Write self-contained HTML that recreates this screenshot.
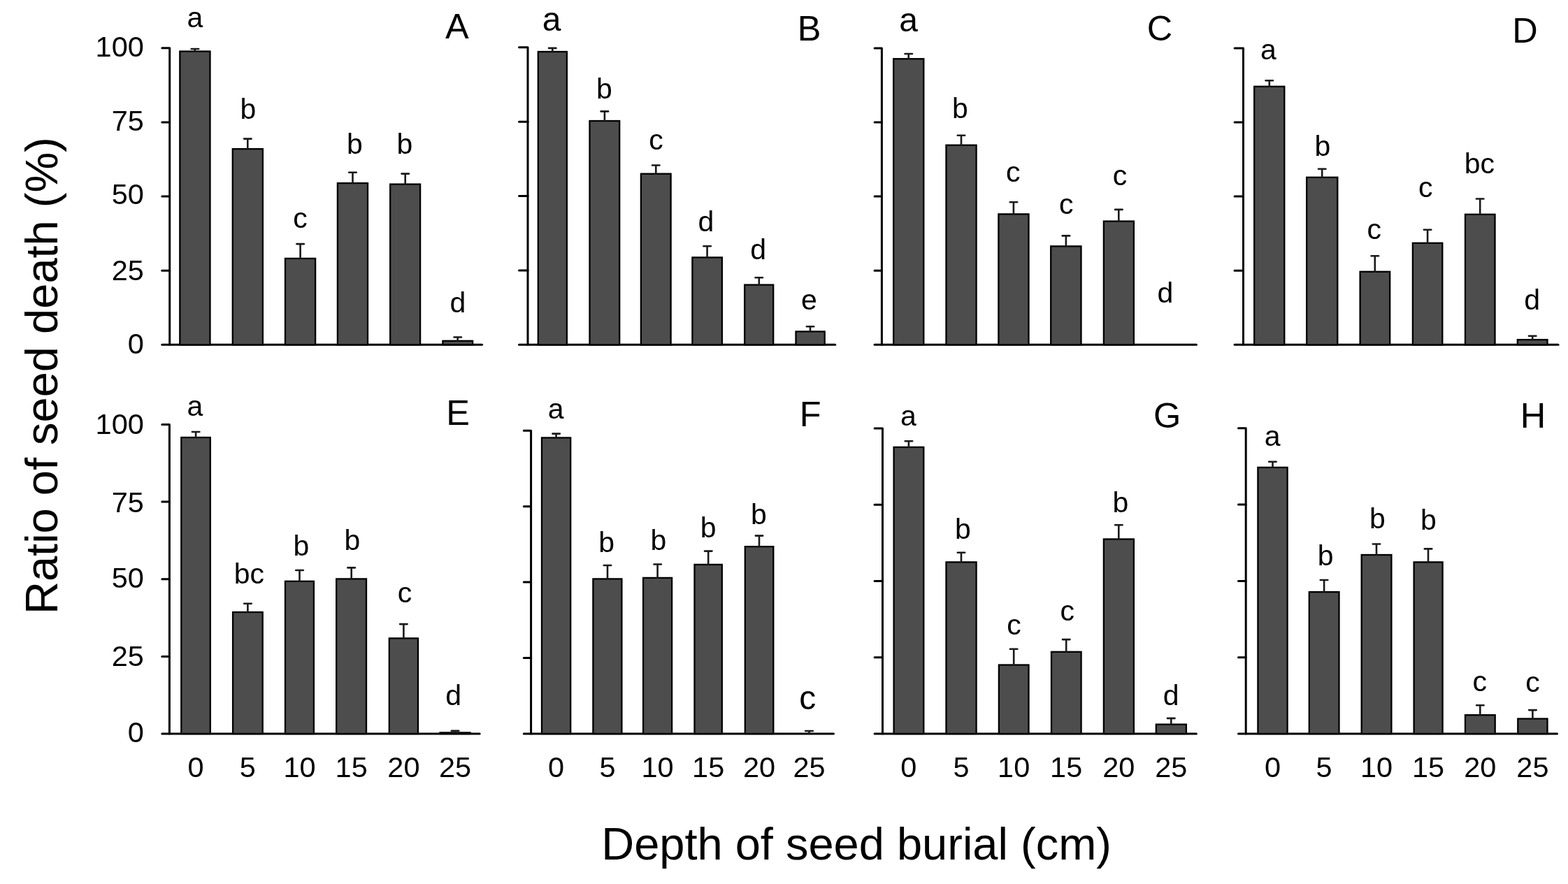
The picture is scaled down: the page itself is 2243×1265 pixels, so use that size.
<!DOCTYPE html>
<html><head><meta charset="utf-8"><title>Seed death by burial depth</title>
<style>
html,body{margin:0;padding:0;background:#fff;}
body{width:2243px;height:1265px;overflow:hidden;}
svg{display:block;}
text{font-family:"Liberation Sans",Arial,Helvetica,sans-serif;fill:#000;}
.let{font-size:41px;text-anchor:middle;}
.tk{font-size:41.5px;}
.pl{font-size:50.5px;text-anchor:middle;}
.ti{font-size:65px;}
.ax{stroke:#000;stroke-width:3.0;fill:none;stroke-linecap:round;stroke-linejoin:round;}
.bar{fill:#4d4d4d;stroke:#000;stroke-width:2.3;}
.err{stroke:#1a1a1a;stroke-width:2.6;fill:none;stroke-linecap:round;}
</style></head>
<body>
<svg width="2243" height="1265" viewBox="0 0 2243 1265">
<rect width="2243" height="1265" fill="#fff"/>
<path d="M231.8 68.8H242.7V493.3" class="ax"/>
<path d="M231.8 387.2H242.7" class="ax"/>
<path d="M231.8 281.1H242.7" class="ax"/>
<path d="M231.8 174.9H242.7" class="ax"/>
<path d="M231.8 493.3H689.5" class="ax"/>
<rect x="257.3" y="73.5" width="43.2" height="419.9" class="bar"/>
<path d="M278.9 73.5V70M273.7 70H284.2" class="err"/>
<rect x="332.8" y="213.1" width="43.1" height="280.2" class="bar"/>
<path d="M354.3 213.1V198.6M349.1 198.6H359.6" class="err"/>
<rect x="408" y="369.9" width="43.1" height="123.4" class="bar"/>
<path d="M429.6 369.9V349.1M424.4 349.1H434.9" class="err"/>
<rect x="482.9" y="262.1" width="43.1" height="231.2" class="bar"/>
<path d="M504.5 262.1V246.8M499.2 246.8H509.8" class="err"/>
<rect x="558.2" y="263.6" width="42.9" height="229.7" class="bar"/>
<path d="M579.7 263.6V248.6M574.5 248.6H585" class="err"/>
<rect x="633.4" y="487.8" width="42.7" height="5.5" class="bar"/>
<path d="M654.7 487.8V482.5M649.5 482.5H660" class="err"/>
<text x="279" y="38.8" class="let">a</text>
<text x="355" y="169.7" class="let">b</text>
<text x="429.6" y="325.6" class="let">c</text>
<text x="507.5" y="219.6" class="let">b</text>
<text x="579" y="219.6" class="let">b</text>
<text x="654.8" y="447.2" class="let">d</text>
<text x="653.8" y="55.3" class="pl">A</text>
<path d="M742.5 67.8H755V493.3" class="ax"/>
<path d="M742.5 386.9H755" class="ax"/>
<path d="M742.5 280.6H755" class="ax"/>
<path d="M742.5 174.2H755" class="ax"/>
<path d="M742.5 493.3H1194.7" class="ax"/>
<rect x="769.8" y="74" width="41.1" height="419.4" class="bar"/>
<path d="M790.3 74V68.9M785 68.9H795.5" class="err"/>
<rect x="843.5" y="173" width="42.7" height="320.4" class="bar"/>
<path d="M864.9 173V159.4M859.6 159.4H870.1" class="err"/>
<rect x="916.9" y="248.7" width="42.7" height="244.7" class="bar"/>
<path d="M938.3 248.7V236.5M933 236.5H943.5" class="err"/>
<rect x="990.4" y="368.4" width="42.5" height="124.9" class="bar"/>
<path d="M1011.6 368.4V352.3M1006.4 352.3H1016.9" class="err"/>
<rect x="1065.2" y="407.6" width="41" height="85.7" class="bar"/>
<path d="M1085.8 407.6V397.3M1080.5 397.3H1091" class="err"/>
<rect x="1138.5" y="474.4" width="41.2" height="18.9" class="bar"/>
<path d="M1159 474.4V467.3M1153.8 467.3H1164.3" class="err"/>
<text x="789" y="43.7" class="let" style="font-size:48px">a</text>
<text x="864.5" y="140.8" class="let">b</text>
<text x="938.6" y="213.6" class="let">c</text>
<text x="1009.8" y="330.6" class="let">d</text>
<text x="1084.7" y="371.2" class="let">d</text>
<text x="1157.4" y="442.5" class="let">e</text>
<text x="1157.7" y="58.2" class="pl">B</text>
<path d="M1251.1 69H1261.4V493.3" class="ax"/>
<path d="M1251.1 387.2H1261.4" class="ax"/>
<path d="M1251.1 281.1H1261.4" class="ax"/>
<path d="M1251.1 175.1H1261.4" class="ax"/>
<path d="M1251.1 493.3H1711.4" class="ax"/>
<rect x="1278.2" y="84.2" width="43.1" height="409.1" class="bar"/>
<path d="M1299.7 84.2V77M1294.5 77H1305" class="err"/>
<rect x="1353.5" y="207.7" width="43.1" height="285.6" class="bar"/>
<path d="M1375 207.7V193.7M1369.8 193.7H1380.2" class="err"/>
<rect x="1428.4" y="306.4" width="43.1" height="186.9" class="bar"/>
<path d="M1449.9 306.4V289.2M1444.7 289.2H1455.2" class="err"/>
<rect x="1503.2" y="352.4" width="43.3" height="140.9" class="bar"/>
<path d="M1524.9 352.4V337.4M1519.7 337.4H1530.2" class="err"/>
<rect x="1578.9" y="316.6" width="43" height="176.7" class="bar"/>
<path d="M1600.3 316.6V299.9M1595.1 299.9H1605.6" class="err"/>
<text x="1299.7" y="45.3" class="let" style="font-size:48px">a</text>
<text x="1373.3" y="168.7" class="let">b</text>
<text x="1449.3" y="260.4" class="let">c</text>
<text x="1525.2" y="305.5" class="let">c</text>
<text x="1602" y="265.3" class="let">c</text>
<text x="1666.9" y="433.3" class="let">d</text>
<text x="1658.9" y="57.8" class="pl">C</text>
<path d="M1766.1 69H1778.5V493.3" class="ax"/>
<path d="M1766.1 387.2H1778.5" class="ax"/>
<path d="M1766.1 281.1H1778.5" class="ax"/>
<path d="M1766.1 175.1H1778.5" class="ax"/>
<path d="M1766.1 493.3H2229" class="ax"/>
<rect x="1794.2" y="123.8" width="43.1" height="369.6" class="bar"/>
<path d="M1815.8 123.8V115.3M1810.5 115.3H1821" class="err"/>
<rect x="1869.2" y="253.8" width="44.1" height="239.6" class="bar"/>
<path d="M1891.2 253.8V241.8M1886 241.8H1896.5" class="err"/>
<rect x="1945.6" y="388.8" width="42.6" height="104.5" class="bar"/>
<path d="M1966.8 388.8V366.3M1961.6 366.3H1972.1" class="err"/>
<rect x="2020.9" y="347.8" width="42.4" height="145.6" class="bar"/>
<path d="M2042.1 347.8V328.8M2036.8 328.8H2047.3" class="err"/>
<rect x="2096" y="306.8" width="42.5" height="186.5" class="bar"/>
<path d="M2117.2 306.8V284.5M2111.9 284.5H2122.4" class="err"/>
<rect x="2170.8" y="486.1" width="42.7" height="7.2" class="bar"/>
<path d="M2192.2 486.1V480.7M2186.9 480.7H2197.4" class="err"/>
<text x="1814.5" y="84.8" class="let">a</text>
<text x="1891.9" y="223.2" class="let">b</text>
<text x="1965.8" y="341.9" class="let">c</text>
<text x="2039.2" y="282.4" class="let">c</text>
<text x="2116.3" y="248.3" class="let">bc</text>
<text x="2191.6" y="442.9" class="let">d</text>
<text x="2181.4" y="61" class="pl">D</text>
<path d="M231.8 607.4H242.4V1050" class="ax"/>
<path d="M231.8 939.4H242.4" class="ax"/>
<path d="M231.8 828.7H242.4" class="ax"/>
<path d="M231.8 718H242.4" class="ax"/>
<path d="M231.8 1050H686.2" class="ax"/>
<rect x="259.3" y="626" width="41.5" height="424" class="bar"/>
<path d="M280.1 626V618M274.9 618H285.4" class="err"/>
<rect x="333.1" y="876" width="42.6" height="174" class="bar"/>
<path d="M354.4 876V863.8M349.2 863.8H359.7" class="err"/>
<rect x="408" y="831.8" width="40.9" height="218.2" class="bar"/>
<path d="M428.5 831.8V816M423.2 816H433.8" class="err"/>
<rect x="481.2" y="828.4" width="42.8" height="221.6" class="bar"/>
<path d="M502.7 828.4V812.4M497.4 812.4H507.9" class="err"/>
<rect x="556.8" y="913.4" width="41.2" height="136.6" class="bar"/>
<path d="M577.4 913.4V893.1M572.1 893.1H582.6" class="err"/>
<rect x="629.5" y="1048.4" width="43.1" height="1.6" class="bar"/>
<path d="M651.1 1048.4V1045.7M645.8 1045.7H656.3" class="err"/>
<text x="278.9" y="595.2" class="let">a</text>
<text x="356.4" y="834.9" class="let">bc</text>
<text x="431" y="795.3" class="let">b</text>
<text x="503.9" y="787.1" class="let">b</text>
<text x="578.9" y="862.1" class="let">c</text>
<text x="648.7" y="1008.9" class="let">d</text>
<text x="655.1" y="607.8" class="pl">E</text>
<path d="M749.3 616.3H759.6V1050" class="ax"/>
<path d="M749.3 941.6H759.6" class="ax"/>
<path d="M749.3 833.1H759.6" class="ax"/>
<path d="M749.3 724.7H759.6" class="ax"/>
<path d="M749.3 1050H1192.5" class="ax"/>
<rect x="775" y="626.4" width="41.2" height="423.6" class="bar"/>
<path d="M795.6 626.4V620.6M790.4 620.6H800.9" class="err"/>
<rect x="848.4" y="828.4" width="41" height="221.6" class="bar"/>
<path d="M869 828.4V809M863.7 809H874.2" class="err"/>
<rect x="920.1" y="826.9" width="41" height="223.1" class="bar"/>
<path d="M940.6 826.9V807.5M935.4 807.5H945.9" class="err"/>
<rect x="993.5" y="807.9" width="39.3" height="242.1" class="bar"/>
<path d="M1013.2 807.9V788.6M1008 788.6H1018.5" class="err"/>
<rect x="1065.8" y="782.2" width="40.5" height="267.8" class="bar"/>
<path d="M1086 782.2V766.6M1080.8 766.6H1091.2" class="err"/>
<path d="M1157.5 1050V1046M1152.2 1046H1162.8" class="err"/>
<text x="795.2" y="599.2" class="let">a</text>
<text x="867.6" y="790.3" class="let">b</text>
<text x="942" y="787.1" class="let">b</text>
<text x="1013.2" y="768.9" class="let">b</text>
<text x="1085.3" y="749.7" class="let">b</text>
<text x="1155.2" y="1014.5" class="let" style="font-size:48px">c</text>
<text x="1159.2" y="609.5" class="pl">F</text>
<path d="M1251.1 613.1H1262.5V1050" class="ax"/>
<path d="M1251.1 940.8H1262.5" class="ax"/>
<path d="M1251.1 831.5H1262.5" class="ax"/>
<path d="M1251.1 722.3H1262.5" class="ax"/>
<path d="M1251.1 1050H1711.4" class="ax"/>
<rect x="1278.6" y="639.9" width="42.7" height="410.1" class="bar"/>
<path d="M1299.9 639.9V631.3M1294.7 631.3H1305.2" class="err"/>
<rect x="1353.5" y="804.4" width="43.1" height="245.6" class="bar"/>
<path d="M1375 804.4V790.7M1369.8 790.7H1380.2" class="err"/>
<rect x="1428.9" y="951.5" width="42.6" height="98.5" class="bar"/>
<path d="M1450.2 951.5V928.8M1444.9 928.8H1455.4" class="err"/>
<rect x="1504" y="932.8" width="42.6" height="117.2" class="bar"/>
<path d="M1525.2 932.8V915.1M1520 915.1H1530.5" class="err"/>
<rect x="1578.9" y="771.5" width="43" height="278.5" class="bar"/>
<path d="M1600.3 771.5V751.2M1595.1 751.2H1605.6" class="err"/>
<rect x="1653.8" y="1036.6" width="43.1" height="13.4" class="bar"/>
<path d="M1675.3 1036.6V1027.9M1670 1027.9H1680.5" class="err"/>
<text x="1299.5" y="609.1" class="let">a</text>
<text x="1377.5" y="771.1" class="let">b</text>
<text x="1450.6" y="907.7" class="let">c</text>
<text x="1526.8" y="887.8" class="let">c</text>
<text x="1602.8" y="732.6" class="let">b</text>
<text x="1675.1" y="1008.9" class="let">d</text>
<text x="1669.6" y="612.1" class="pl">G</text>
<path d="M1771.5 612.7H1782.2V1050" class="ax"/>
<path d="M1771.5 940.7H1782.2" class="ax"/>
<path d="M1771.5 831.4H1782.2" class="ax"/>
<path d="M1771.5 722H1782.2" class="ax"/>
<path d="M1771.5 1050H2227.5" class="ax"/>
<rect x="1799.4" y="668.9" width="42.2" height="381.1" class="bar"/>
<path d="M1820.5 668.9V660.8M1815.2 660.8H1825.7" class="err"/>
<rect x="1872.8" y="847.1" width="42.7" height="202.9" class="bar"/>
<path d="M1894.1 847.1V830M1888.8 830H1899.3" class="err"/>
<rect x="1947.7" y="794" width="42.7" height="256" class="bar"/>
<path d="M1969 794V778.5M1963.8 778.5H1974.2" class="err"/>
<rect x="2022.6" y="804.4" width="41" height="245.6" class="bar"/>
<path d="M2043 804.4V785.4M2037.8 785.4H2048.3" class="err"/>
<rect x="2096" y="1023.2" width="42.7" height="26.8" class="bar"/>
<path d="M2117.3 1023.2V1009.3M2112.1 1009.3H2122.6" class="err"/>
<rect x="2171.3" y="1028.5" width="42.2" height="21.5" class="bar"/>
<path d="M2192.4 1028.5V1016.1M2187.2 1016.1H2197.7" class="err"/>
<text x="1820.1" y="638.4" class="let">a</text>
<text x="1896.2" y="809.2" class="let">b</text>
<text x="1970.5" y="756.1" class="let">b</text>
<text x="2043.4" y="758.2" class="let">b</text>
<text x="2116.7" y="989" class="let">c</text>
<text x="2192.6" y="990.1" class="let">c</text>
<text x="2193.1" y="611.6" class="pl">H</text>
<text x="205.8" y="80.6" class="tk" text-anchor="end">100</text>
<text x="205.8" y="186.6" class="tk" text-anchor="end">75</text>
<text x="205.8" y="292.3" class="tk" text-anchor="end">50</text>
<text x="205.8" y="400.9" class="tk" text-anchor="end">25</text>
<text x="205.8" y="506.1" class="tk" text-anchor="end">0</text>
<text x="205.8" y="620.9" class="tk" text-anchor="end">100</text>
<text x="205.8" y="732.7" class="tk" text-anchor="end">75</text>
<text x="205.8" y="841.4" class="tk" text-anchor="end">50</text>
<text x="205.8" y="952.7" class="tk" text-anchor="end">25</text>
<text x="205.8" y="1061.9" class="tk" text-anchor="end">0</text>
<text x="280.1" y="1112.3" class="tk" text-anchor="middle">0</text>
<text x="354.4" y="1112.3" class="tk" text-anchor="middle">5</text>
<text x="428.5" y="1112.3" class="tk" text-anchor="middle">10</text>
<text x="502.7" y="1112.3" class="tk" text-anchor="middle">15</text>
<text x="577.4" y="1112.3" class="tk" text-anchor="middle">20</text>
<text x="651.1" y="1112.3" class="tk" text-anchor="middle">25</text>
<text x="795.6" y="1112.3" class="tk" text-anchor="middle">0</text>
<text x="869" y="1112.3" class="tk" text-anchor="middle">5</text>
<text x="940.6" y="1112.3" class="tk" text-anchor="middle">10</text>
<text x="1013.2" y="1112.3" class="tk" text-anchor="middle">15</text>
<text x="1086" y="1112.3" class="tk" text-anchor="middle">20</text>
<text x="1157.5" y="1112.3" class="tk" text-anchor="middle">25</text>
<text x="1299.9" y="1112.3" class="tk" text-anchor="middle">0</text>
<text x="1375" y="1112.3" class="tk" text-anchor="middle">5</text>
<text x="1450.2" y="1112.3" class="tk" text-anchor="middle">10</text>
<text x="1525.2" y="1112.3" class="tk" text-anchor="middle">15</text>
<text x="1600.3" y="1112.3" class="tk" text-anchor="middle">20</text>
<text x="1675.3" y="1112.3" class="tk" text-anchor="middle">25</text>
<text x="1820.5" y="1112.3" class="tk" text-anchor="middle">0</text>
<text x="1894.1" y="1112.3" class="tk" text-anchor="middle">5</text>
<text x="1969" y="1112.3" class="tk" text-anchor="middle">10</text>
<text x="2043" y="1112.3" class="tk" text-anchor="middle">15</text>
<text x="2117.3" y="1112.3" class="tk" text-anchor="middle">20</text>
<text x="2192.4" y="1112.3" class="tk" text-anchor="middle">25</text>
<text x="860.2" y="1230" class="ti">Depth of seed burial (cm)</text>
<text transform="translate(82 879) rotate(-90)" class="ti">Ratio of seed death (%)</text>
</svg>
</body></html>
